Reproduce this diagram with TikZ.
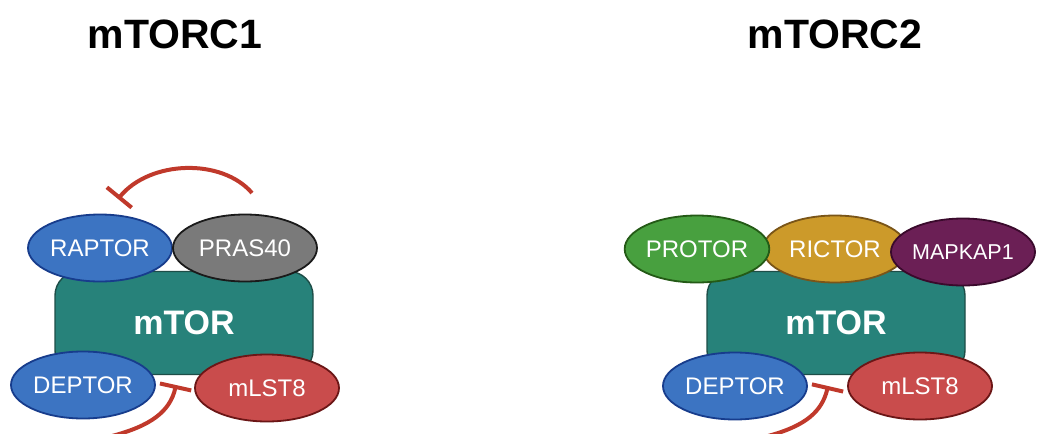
\documentclass[tikz,border=0pt]{standalone}
\usepackage{fontspec}
\setmainfont{Liberation Sans}
\usetikzlibrary{shapes.geometric,arrows.meta}
\definecolor{teal}{HTML}{27827A}
\definecolor{tealb}{HTML}{1D4D47}
\definecolor{blu}{HTML}{3C74C2}
\definecolor{blub}{HTML}{173C8C}
\definecolor{gry}{HTML}{7A7A7A}
\definecolor{gryb}{HTML}{1A1A1A}
\definecolor{rd}{HTML}{C94C4C}
\definecolor{rdb}{HTML}{6B1616}
\definecolor{grn}{HTML}{48A03F}
\definecolor{grnb}{HTML}{245A16}
\definecolor{gld}{HTML}{CC9A2A}
\definecolor{gldb}{HTML}{7A5518}
\definecolor{prp}{HTML}{6B1F55}
\definecolor{prpb}{HTML}{3A0A2C}
\definecolor{inh}{HTML}{C0392B}
\tikzset{
  core/.style={draw=tealb, fill=teal, line width=1.4pt, rounded corners=24pt,
    minimum width=258pt, minimum height=103pt, inner sep=0pt,
    text=white, font=\fontsize{34}{34}\selectfont\bfseries},
  prot/.style={ellipse, line width=1.8pt, minimum width=144pt, minimum height=67pt,
    inner sep=0pt, text=white, font=\fontsize{24}{24}\selectfont},
  title/.style={font=\fontsize{41}{41}\selectfont\bfseries, anchor=base},
  inhib/.style={draw=inh, line width=4pt, -{Bar[width=32pt,line width=4pt]}}
}
\begin{document}
\begin{tikzpicture}[x=1pt,y=-1pt]
\clip (0,0) rectangle (1037,434);
\fill[white] (0,0) rectangle (1037,434);
% titles
\node[title] (t1) at (175,48) {mTORC1};
\node[title] (t2) at (835,48) {mTORC2};
% mTORC1
\node[core] (mtor1) at (184,323) {mTOR};
\node[prot, fill=blu, draw=blub] (raptor) at (100,248) {RAPTOR};
\node[prot, fill=gry, draw=gryb] (pras) at (245,248) {PRAS40};
\node[prot, fill=blu, draw=blub] (deptor1) at (83,385) {DEPTOR};
\node[prot, fill=rd, draw=rdb] (mlst1) at (267,388) {mLST8};
\coordinate (a1s) at (252,193);
\coordinate (a1e) at (118,199);
\draw[inhib] (a1s) .. controls (222,158) and (150,160) .. (a1e);
\coordinate (b1s) at (112,436);
\coordinate (b1e) at (176,385);
\draw[inhib] (b1s) .. controls (150,426) and (170,412) .. (b1e);
% mTORC2
\node[core] (mtor2) at (836,323) {mTOR};
\node[prot, fill=gld, draw=gldb] (rictor) at (835,249) {RICTOR};
\node[prot, fill=grn, draw=grnb] (protor) at (697,249) {PROTOR};
\node[prot, fill=prp, draw=prpb, font=\fontsize{21.5}{21.5}\selectfont] (mapkap) at (963,252) {MAPKAP1};
\node[prot, fill=blu, draw=blub] (deptor2) at (735,386) {DEPTOR};
\node[prot, fill=rd, draw=rdb] (mlst2) at (920,386) {mLST8};
\coordinate (b2s) at (768,436);
\coordinate (b2e) at (828,386);
\draw[inhib] (b2s) .. controls (805,426) and (822,412) .. (b2e);
\end{tikzpicture}
\end{document}
